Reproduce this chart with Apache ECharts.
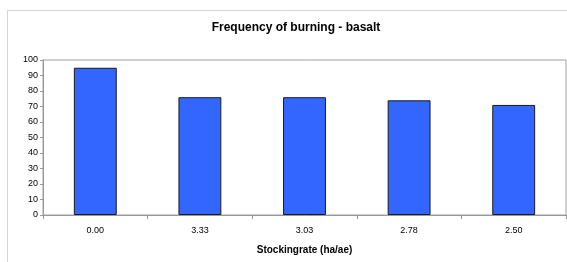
<!DOCTYPE html>
<html>
<head>
<meta charset="utf-8">
<script src="https://cdn.jsdelivr.net/npm/echarts@6/dist/echarts.min.js"></script>
<style>
  html, body { margin: 0; padding: 0; background: #fff; }
  #chart { width: 567px; height: 262px; }
</style>
</head>
<body>
<div id="chart"></div>
<script>
var categories = ['0.00', '3.33', '3.03', '2.78', '2.50'];
var frequency = [95, 76, 76, 74, 71];

var myChart = echarts.init(document.getElementById('chart'));
var font = '"Liberation Sans", Arial, sans-serif';

var option = {
  animation: false,
  backgroundColor: '#fff',
  // outer chart frame
  graphic: [{
    type: 'rect',
    shape: { x: 7.5, y: 10.5, width: 700, height: 400 },
    style: { fill: 'none', stroke: '#d4d4d4', lineWidth: 1 },
    silent: true
  }],
  title: {
    text: 'Frequency of burning - basalt',
    left: 291,
    top: 17,
    textAlign: 'center',
    textStyle: { fontFamily: font, fontSize: 12, fontWeight: 'bold', color: '#000' }
  },
  grid: {
    left: 43,
    right: 1,
    top: 60,
    bottom: 47,
    show: true,
    borderColor: '#a0a0a0',
    borderWidth: 1,
    backgroundColor: '#fff'
  },
  xAxis: {
    type: 'category',
    data: categories,
    name: 'Stockingrate (ha/ae)',
    nameLocation: 'middle',
    nameGap: 30,
    nameTextStyle: { fontFamily: font, fontSize: 10, fontWeight: 'bold', color: '#000' },
    axisLine: { lineStyle: { color: '#999' } },
    axisTick: { show: true, length: 4, lineStyle: { color: '#999' } },
    axisLabel: { fontFamily: font, fontSize: 9, color: '#000', margin: 11 }
  },
  yAxis: {
    type: 'value',
    min: 0,
    max: 100,
    interval: 10,
    axisLine: { show: true, lineStyle: { color: '#999' } },
    axisTick: { show: true, length: 3, lineStyle: { color: '#999' } },
    axisLabel: { fontFamily: font, fontSize: 9, color: '#000', margin: 5 },
    splitLine: { show: false }
  },
  series: [{
    type: 'bar',
    data: frequency,
    barWidth: '41%',
    itemStyle: { color: '#3366ff', borderColor: '#1a1a1a', borderWidth: 1 }
  }]
};

myChart.setOption(option);
</script>
</body>
</html>
